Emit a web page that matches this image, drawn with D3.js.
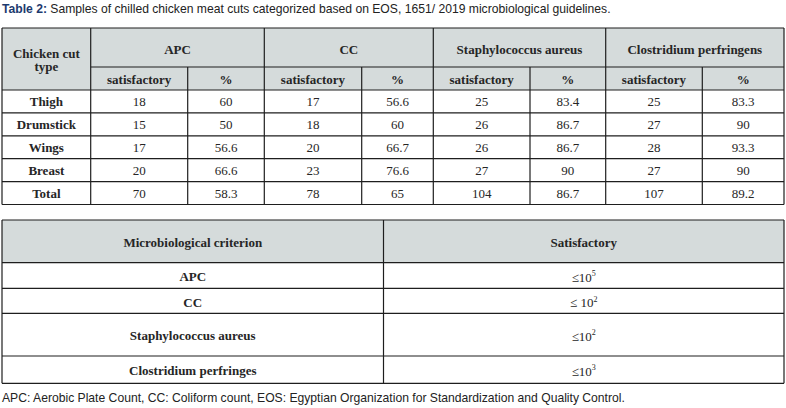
<!DOCTYPE html>
<html>
<head>
<meta charset="utf-8">
<script src="https://cdn.jsdelivr.net/npm/d3@7"></script>
<style>
  html, body { margin: 0; padding: 0; background: #fff; }
  svg { display: block; }
</style>
</head>
<body>
<div id="chart"></div>
<script>
// table 1 values
const cuts = ["Thigh", "Drumstick", "Wings", "Breast", "Total"];
const organisms = ["APC", "CC", "Staphylococcus aureus", "Clostridium perfringens"];
const subHeads = ["satisfactory", "%"];
const apcSat = ["18", "15", "17", "20", "70"];
const apcPct = ["60", "50", "56.6", "66.6", "58.3"];
const ccSat = ["17", "18", "20", "23", "78"];
const ccPct = ["56.6", "60", "66.7", "76.6", "65"];
const saSat = ["25", "26", "26", "27", "104"];
const saPct = ["83.4", "86.7", "86.7", "90", "86.7"];
const cpSat = ["25", "27", "28", "27", "107"];
const cpPct = ["83.3", "90", "93.3", "90", "89.2"];

// table 2 values
const criteria = ["APC", "CC", "Staphylococcus aureus", "Clostridium perfringes"];
const limitSign = ["≤", "≤ ", "≤", "≤"];
const limitExp = ["5", "2", "2", "3"];

const titleLead = "Table 2:";
const titleText = " Samples of chilled chicken meat cuts categorized based on EOS, 1651/ 2019 microbiological guidelines.";
const footText = "APC: Aerobic Plate Count, CC: Coliform count, EOS: Egyptian Organization for Standardization and Quality Control.";

const width = 786, height = 408;
const serif = "'Liberation Serif', 'Times New Roman', serif";
const sans = "'Liberation Sans', Arial, sans-serif";
const headFill = "#d5dbdb";
const lineColor = "#1e1e1e";
const textColor = "#262626";

const svg = d3.select("#chart").append("svg")
    .attr("width", width)
    .attr("height", height);

// caption
const cap = svg.append("text")
    .attr("x", 2)
    .attr("y", 12.5)
    .style("font-family", sans)
    .style("font-size", "12.15px")
    .attr("fill", "#222");
cap.append("tspan").text(titleLead).attr("fill", "#1d3a6e").style("font-weight", "bold");
cap.append("tspan").text(titleText);

// ---------- table 1 ----------
const colKeys = ["cut"];
organisms.forEach((o, i) => subHeads.forEach((s, j) => colKeys.push(i + "_" + j)));
const colEdges = [2, 90.7, 187.7, 264.3, 361.7, 433.3, 530, 605.7, 702.3, 784];
const colX = d3.scaleOrdinal().domain(colKeys).range(colEdges.slice(0, -1));
const colW = d3.scaleOrdinal().domain(colKeys).range(d3.pairs(colEdges).map(p => p[1] - p[0]));

const t1Top = 28, head1Bottom = 67, head2Bottom = 90;
const rowY = d3.scaleBand().domain(cuts).range([head2Bottom, 204.5]);

const columns = [apcSat, apcPct, ccSat, ccPct, saSat, saPct, cpSat, cpPct];

const t1 = svg.append("g");

// header background
t1.append("rect")
    .attr("x", colEdges[0]).attr("y", t1Top)
    .attr("width", colEdges[colEdges.length - 1] - colEdges[0])
    .attr("height", head2Bottom - t1Top)
    .attr("fill", headFill);

function cellText(g, x, y, txt, bold, size){
    return g.append("text")
        .attr("x", x).attr("y", y)
        .attr("text-anchor", "middle")
        .attr("dominant-baseline", "central")
        .style("font-family", serif)
        .style("font-size", (size || 13) + "px")
        .style("font-weight", bold ? "bold" : "normal")
        .attr("fill", textColor)
        .text(txt);
}

// header texts
const cutMid = colX("cut") + colW("cut") / 2;
cellText(t1, cutMid, 53, "Chicken cut", true);
cellText(t1, cutMid, 66.5, "type", true);
organisms.forEach((o, i) => {
    const x0 = colX(i + "_0"), x1 = colX(i + "_1") + colW(i + "_1");
    cellText(t1, (x0 + x1) / 2, 49, o, true);
    subHeads.forEach((s, j) => {
        const k = i + "_" + j;
        cellText(t1, colX(k) + colW(k) / 2, 79, s, true);
    });
});

// body
cuts.forEach((c, r) => {
    const cy = rowY(c) + rowY.bandwidth() / 2 + 0.5;
    cellText(t1, cutMid, cy, c, true);
    columns.forEach((col, ci) => {
        const k = colKeys[ci + 1];
        cellText(t1, colX(k) + colW(k) / 2, cy, col[r], false);
    });
});

// grid lines table 1
const hLines = [t1Top, head2Bottom].concat(cuts.map(c => rowY(c) + rowY.bandwidth()));
hLines.forEach(y => {
    t1.append("line")
        .attr("x1", colEdges[0]).attr("x2", colEdges[colEdges.length - 1])
        .attr("y1", y).attr("y2", y)
        .attr("stroke", lineColor).attr("stroke-width", 1.2);
});
// line under organism names (not under first column)
t1.append("line")
    .attr("x1", colEdges[1]).attr("x2", colEdges[colEdges.length - 1])
    .attr("y1", head1Bottom).attr("y2", head1Bottom)
    .attr("stroke", lineColor).attr("stroke-width", 1.2);
colEdges.forEach((x, i) => {
    // sub-column dividers start below the organism header
    const sub = i > 0 && i < colEdges.length - 1 && i % 2 === 0;
    t1.append("line")
        .attr("x1", x).attr("x2", x)
        .attr("y1", sub ? head1Bottom : t1Top)
        .attr("y2", rowY.range()[1])
        .attr("stroke", lineColor).attr("stroke-width", 1.2);
});

// ---------- table 2 ----------
const t2 = svg.append("g");
const t2Edges = [2, 383.5, 784];
const t2Rows = [220, 262.7, 288.3, 313.3, 356, 383.3];
const t2Y = d3.scaleOrdinal().domain(["head"].concat(criteria)).range(t2Rows.slice(0, -1));
const t2H = d3.scaleOrdinal().domain(["head"].concat(criteria)).range(d3.pairs(t2Rows).map(p => p[1] - p[0]));

t2.append("rect")
    .attr("x", t2Edges[0]).attr("y", t2Y("head"))
    .attr("width", t2Edges[2] - t2Edges[0]).attr("height", t2H("head"))
    .attr("fill", headFill);

const leftMid = (t2Edges[0] + t2Edges[1]) / 2;
const rightMid = (t2Edges[1] + t2Edges[2]) / 2;
const headMid = t2Y("head") + t2H("head") / 2 + 1.5;
cellText(t2, leftMid, headMid, "Microbiological criterion", true);
cellText(t2, rightMid, headMid, "Satisfactory", true);

criteria.forEach((c, i) => {
    const cy = t2Y(c) + t2H(c) / 2 + 1.2;
    cellText(t2, leftMid, cy, c, true);
    const t = cellText(t2, rightMid, cy, null, false);
    t.append("tspan").text(limitSign[i] + "10");
    t.append("tspan").text(limitExp[i])
        .attr("dy", -3.5)
        .style("font-size", "8px");
});

t2Rows.forEach(y => {
    t2.append("line")
        .attr("x1", t2Edges[0]).attr("x2", t2Edges[2])
        .attr("y1", y).attr("y2", y)
        .attr("stroke", lineColor).attr("stroke-width", 1.2);
});
t2Edges.forEach(x => {
    t2.append("line")
        .attr("x1", x).attr("x2", x)
        .attr("y1", t2Rows[0]).attr("y2", t2Rows[t2Rows.length - 1])
        .attr("stroke", lineColor).attr("stroke-width", 1.2);
});

// footnote
svg.append("text")
    .attr("x", 2)
    .attr("y", 402)
    .style("font-family", sans)
    .style("font-size", "12.15px")
    .attr("fill", "#222")
    .text(footText);
</script>
</body>
</html>
